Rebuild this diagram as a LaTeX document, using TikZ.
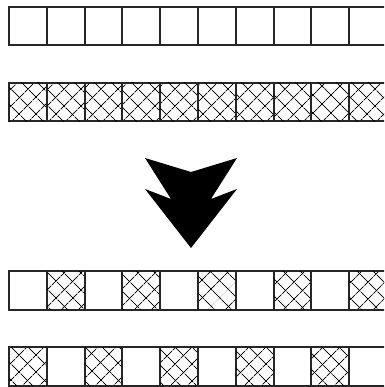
\documentclass[tikz,border=0pt]{standalone}
\usetikzlibrary{patterns.meta}

\begin{document}
\begin{tikzpicture}[x=1pt, y=-1pt,
  cell/.style={draw=black!85, line width=2pt, minimum width=37.8pt, minimum height=38.5pt,
    inner sep=0pt, outer sep=0pt, anchor=north west},
  hatched/.style={cell, pattern={Lines[angle=45, distance=13pt, line width=1pt]},
    postaction={pattern={Lines[angle=-45, distance=13pt, line width=1pt]}}}]
  \useasboundingbox (0,0) rectangle (384,387);
  \clip (0,0) rectangle (384,387);
  % plain row and hatched row
  \foreach \i in {0,...,9} {
    \node[cell] (plain-\i) at ({9+37.8*\i}, 7) {};
    \node[hatched] (hatch-\i) at ({9+37.8*\i}, 83) {};
  }
  % the arrow
  \fill[black] (145,158) -- (191,172) -- (237,158) -- (211,199) -- (237,189)
    -- (191,248) -- (145,189) -- (171,199) -- cycle;
  % mixed rows
  \foreach \i in {0,...,9} {
    \ifodd\i
      \node[hatched] (odd-\i) at ({9+37.8*\i}, 271) {};
      \node[cell] (even-\i) at ({9+37.8*\i}, 347) {};
    \else
      \node[cell] (odd-\i) at ({9+37.8*\i}, 271) {};
      \node[hatched] (even-\i) at ({9+37.8*\i}, 347) {};
    \fi
  }
\end{tikzpicture}
\end{document}
